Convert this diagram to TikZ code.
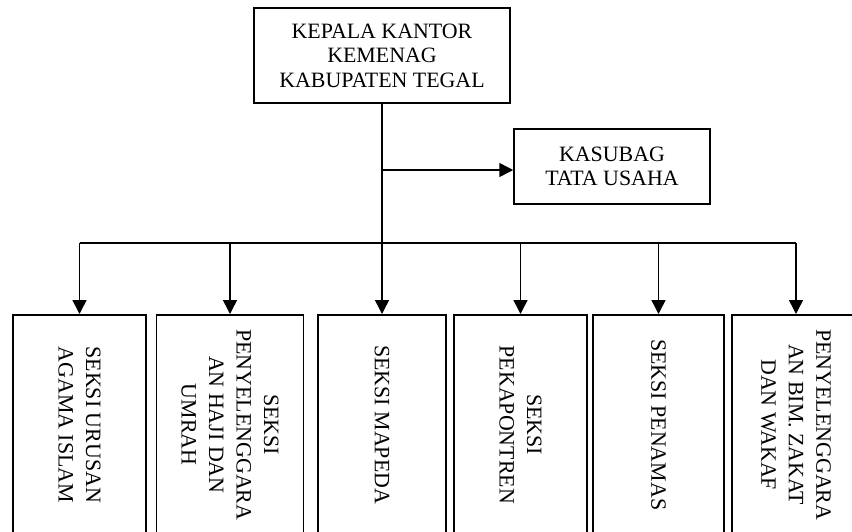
\documentclass[tikz,border=0pt]{standalone}
\usepackage{fontspec}
\setmainfont{Liberation Serif}
\usetikzlibrary{arrows.meta}
\begin{document}
\begin{tikzpicture}[x=1pt, y=-1pt,
  kotak/.style={draw=black, line width=1.5pt, align=center, inner sep=0pt,
    font=\fontsize{21.9}{24.4}\selectfont},
  seksi/.style={kotak, rotate=-90, anchor=west, minimum width=220pt,
    font=\fontsize{21.9}{27.5}\selectfont},
  garis/.style={line width=1.5pt},
  panah/.style={garis, -{Triangle[length=14pt,width=14pt]}}]
\useasboundingbox (0,0) rectangle (852,531);
\clip (0,0) rectangle (852,531);

% Pimpinan
\node [kotak, minimum width=256pt, minimum height=95pt] (kepala) at (382,55.5)
  {KEPALA KANTOR\\KEMENAG\\KABUPATEN TEGAL};
\node [kotak, minimum width=196pt, minimum height=75pt] (kasubag) at (612,166.5)
  {KASUBAG\\TATA USAHA};

% Seksi-seksi (teks diputar)
\node [seksi, minimum height=133pt] (urusan) at (79.5,314) {SEKSI URUSAN\\AGAMA ISLAM};
\node [seksi, minimum height=147pt] (haji) at (230,314) {SEKSI\\PENYELENGGARA\\AN HAJI DAN\\UMRAH};
\node [seksi, minimum height=128pt] (mapeda) at (382,314) {SEKSI MAPEDA};
\node [seksi, minimum height=133pt] (pontren) at (520.5,314) {SEKSI\\PEKAPONTREN};
\node [seksi, minimum height=131pt] (penamas) at (658.5,314) {SEKSI PENAMAS};
\node [seksi, minimum height=128pt] (zakat) at (796,314) {PENYELENGGARA\\AN BIM. ZAKAT\\DAN WAKAF};

% Garis komando
\coordinate (cabang) at (382,170);
\coordinate (bus) at (382,243);
\draw [panah] (kepala.south) -- (mapeda.west);
\draw [panah] (cabang) -- (cabang -| kasubag.west);
\draw [garis] (urusan.west |- bus) -- (zakat.west |- bus);
\foreach \s in {urusan, haji, pontren, penamas, zakat}
  \draw [panah] (\s.west |- bus) -- (\s.west);
\end{tikzpicture}
\end{document}
